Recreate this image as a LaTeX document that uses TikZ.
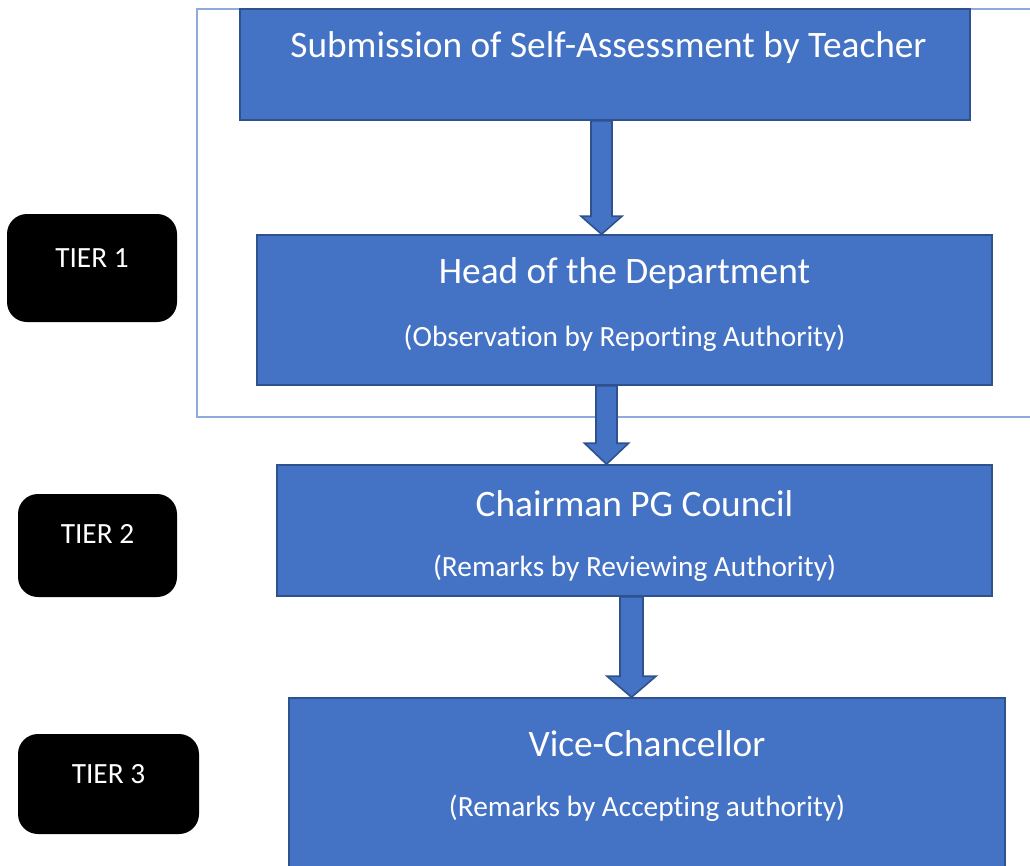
\documentclass[tikz,border=0pt]{standalone}
\usepackage{fontspec}
\setmainfont{Carlito}[Ligatures={NoCommon}]
\usetikzlibrary{calc}
\definecolor{boxfill}{HTML}{4472C4}
\definecolor{boxline}{HTML}{2F528F}
\definecolor{frameline}{HTML}{8FAADC}
\def\u{0.75pt}
\tikzset{
  bluebox/.style={draw=boxline, fill=boxfill, line width=1.2pt, inner sep=0pt},
  tierbox/.style={fill=black, rounded corners=15pt, inner sep=0pt},
  titletext/.style={text=white, font=\fontsize{28pt}{33pt}\selectfont, inner sep=0pt},
  subtext/.style={text=white, font=\fontsize{22pt}{26pt}\selectfont, inner sep=0pt},
  barrow/.style={draw=boxline, fill=boxfill, line width=1.2pt, line join=miter},
  framebox/.style={draw=frameline, line width=0.9pt}
}
\newcommand\blockarrow[6]{%
  \filldraw[barrow] ({#3-#4},0 |- #1.south) -- ({#3+#4},0 |- #1.south)
   -- ($({#3+#4},0 |- #2.north)+(0,-#6)$) -- ($({#3+#5},0 |- #2.north)+(0,-#6)$)
   -- (#3,0 |- #2.north)
   -- ($({#3-#5},0 |- #2.north)+(0,-#6)$) -- ($({#3-#4},0 |- #2.north)+(0,-#6)$) -- cycle;}
\begin{document}
\begin{tikzpicture}[x=0.75pt,y=-0.75pt]
\clip (0,0) rectangle (1030,865);
\fill[white] (0,0) rectangle (1030,865);
% frame around tier 1
\draw[framebox] (1045,9) -- (197,9) -- (197,417) -- (1045,417);
% blue boxes
\node[bluebox, minimum width=730*\u, minimum height=111*\u] (b1) at (605,64.5) {};
\node[bluebox, minimum width=735*\u, minimum height=150*\u] (b2) at (624.5,310) {};
\node[bluebox, minimum width=715*\u, minimum height=131*\u] (b3) at (634.5,530.5) {};
\node[bluebox, minimum width=716*\u, minimum height=202*\u] (b4) at (647,799) {};
% texts
\node[titletext] (t1) at (608.5,47.5) {Submission of Self-Assessment by Teacher};
\node[titletext] (t2) at (624.5,273.5) {Head of the Department};
\node[subtext]   (s2) at (624.5,338) {(Observation by Reporting Authority)};
\node[titletext] (t3) at (634.5,503.5) {Chairman PG Council};
\node[subtext]   (s3) at (634.5,568) {(Remarks by Reviewing Authority)};
\node[titletext] (t4) at (647,743.5) {Vice-Chancellor};
\node[subtext]   (s4) at (647,808) {(Remarks by Accepting authority)};
% arrows
\blockarrow{b1}{b2}{601.5}{10.5}{20.5}{18}
\blockarrow{b2}{b3}{606.5}{10.5}{22}{21}
\blockarrow{b3}{b4}{631.5}{11.5}{24.5}{21}
% tier boxes
\node[tierbox, minimum width=170*\u, minimum height=108*\u] (tier1) at (92,268) {};
\node[tierbox, minimum width=159*\u, minimum height=103*\u] (tier2) at (97.5,545.5) {};
\node[tierbox, minimum width=181*\u, minimum height=100*\u] (tier3) at (108.5,784) {};
\node[subtext] (tl1) at (92,258) {TIER 1};
\node[subtext] (tl2) at (97.5,534) {TIER 2};
\node[subtext] (tl3) at (108.5,774) {TIER 3};
\end{tikzpicture}
\end{document}
